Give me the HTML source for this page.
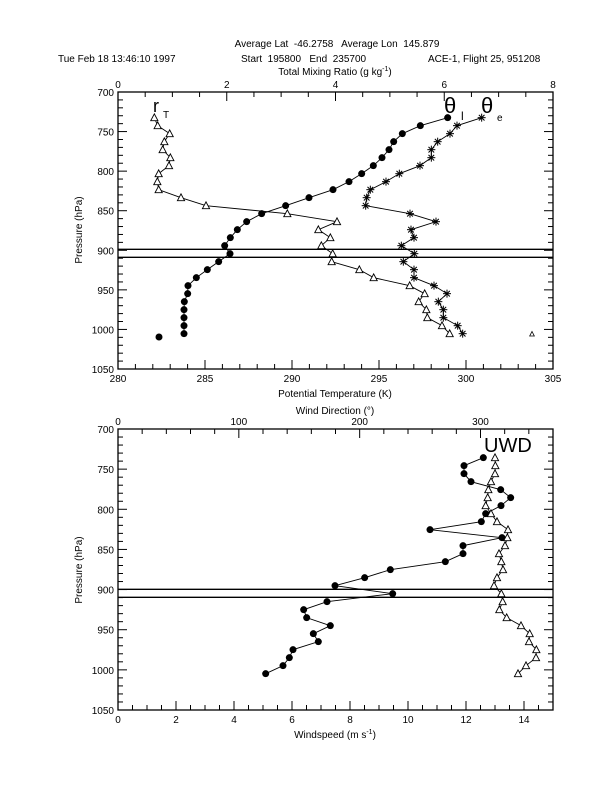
<!DOCTYPE html>
<html><head><meta charset="utf-8"><style>
body{margin:0;background:#fff}
svg{display:block}
text{font-family:"Liberation Sans",sans-serif;font-size:10px;fill:#000;white-space:pre}
</style></head><body>
<svg id="s" width="612" height="792" xmlns="http://www.w3.org/2000/svg">
<rect width="612" height="792" fill="#fff"/>
<text x="337" y="47" text-anchor="middle">Average Lat  -46.2758   Average Lon  145.879</text>
<text x="58" y="62">Tue Feb 18 13:46:10 1997</text>
<text x="241" y="62">Start  195800   End  235700</text>
<text x="428" y="62">ACE-1, Flight 25, 951208</text>
<text x="335" y="75" text-anchor="middle">Total Mixing Ratio (g kg<tspan dy="-4" font-size="7">-1</tspan><tspan dy="4">)</tspan></text>
<text x="335" y="397" text-anchor="middle">Potential Temperature (K)</text>
<text x="335" y="414" text-anchor="middle">Wind Direction (°)</text>
<text x="335" y="738" text-anchor="middle">Windspeed (m s<tspan dy="-4" font-size="7">-1</tspan><tspan dy="4">)</tspan></text>
<text transform="translate(82,230) rotate(-90)" text-anchor="middle">Pressure (hPa)</text>
<text transform="translate(82,570) rotate(-90)" text-anchor="middle">Pressure (hPa)</text>
<text x="153" y="112" style="font-size:18px">r</text><text x="163" y="118" style="font-size:10px">T</text>
<text x="444" y="113" style="font-size:22px">θ</text><text x="461" y="120" style="font-size:12px">l</text>
<text x="481" y="113" style="font-size:22px">θ</text><text x="497" y="121" style="font-size:10px">e</text>
<text x="484" y="452" style="font-size:20px">UWD</text>
<g id="g"></g>
</svg>
<script>
const NS="http://www.w3.org/2000/svg",g=document.getElementById('g');
function el(t,a,p){const e=document.createElementNS(NS,t);for(const k in a)e.setAttribute(k,a[k]);(p||g).appendChild(e);return e;}
function line(x1,y1,x2,y2,w){el('line',{x1,y1,x2,y2,stroke:'#000','stroke-width':w||1});}
function txt(x,y,s,anchor){const t=el('text',{x,y,'text-anchor':anchor||'middle'});t.textContent=s;}
const L=118,R=553;
function frame(T,B,bot,top,hl){
  el('rect',{x:L,y:T,width:R-L,height:B-T,fill:'none',stroke:'#000','stroke-width':1.3});
  const sc=(B-T)/350;
  for(let p=700;p<=1050;p+=10){const y=T+(p-700)*sc,len=(p%50==0)?9:5;line(L,y,L+len,y);line(R,y,R-len,y);
    if(p%50==0)txt(L-4,y+4,String(p),'end');}
  let [a,b,maj,mn]=bot;
  for(let v=a;v<=b+1e-9;v+=mn){const x=L+(v-a)/(b-a)*(R-L);const m=Math.abs(v/maj-Math.round(v/maj))<1e-6;line(x,B,x,B-(m?9:5));if(m)txt(x,B+13,String(Math.round(v)));}
  [a,b,maj,mn]=top;
  for(let v=a;v<=b+1e-9;v+=mn){const x=L+(v-a)/(b-a)*(R-L);const m=Math.abs(v/maj-Math.round(v/maj))<1e-6;line(x,T,x,T+(m?9:5));if(m)txt(x,T-4,String(Math.round(v)));}
  hl.forEach(y=>line(L,y,R,y,1.3));
}
frame(92,369,[280,305,5,1],[0,8,2,0.5],[249.3,257.3]);
frame(429,710,[0,15,2,0.5],[0,360,100,20],[589.3,597.3]);
function series(ox,oy,pts,mk,conn){
  const P=pts.map(p=>[ox+p[0]/3,oy+p[1]/3]);
  if(conn)el('polyline',{points:P.map(p=>p.join(',')).join(' '),fill:'none',stroke:'#000','stroke-width':0.9});
  P.forEach(([x,y])=>{
    if(mk=='dot')el('circle',{cx:x,cy:y,r:3.5,fill:'#000'});
    else if(mk=='tri')el('polygon',{points:`${x-3.6},${y+3} ${x+3.6},${y+3} ${x},${y-3.8}`,fill:'#fff',stroke:'#000','stroke-width':0.9});
    else if(mk=='star'){for(let k=0;k<4;k++){const a=k*Math.PI/4;line(x-4*Math.cos(a),y-4*Math.sin(a),x+4*Math.cos(a),y+4*Math.sin(a),1);}}
  });
}
const th=[[1013,83],[931,107],[877,131],[851,155],[837,179],[816,203],[790,227],[755,251],[717,275],[669,299],[597,323],[527,347],[455,371],[410,395],[382,419],[361,443],[344,467],[360,491],[326,515],[292,539],[259,563],[234,587],[233,611],[223,635],[222,659],[222,683],[222,707],[222,731]];
const te=[[1115,83],[1041,107],[1020,131],[983,155],[964,179],[964,203],[930,227],[868,251],[828,275],[781,299],[770,323],[767,347],[900,371],[978,395],[903,419],[912,443],[874,467],[913,491],[880,515],[912,539],[912,563],[972,587],[1011,611],[985,635],[1000,659],[1000,683],[1043,707],[1058,731]];
const rt=[[133,83],[143,107],[179,131],[163,155],[158,179],[181,203],[177,227],[146,251],[142,275],[146,299],[213,323],[288,347],[532,371],[681,395],[625,419],[661,443],[634,467],[668,491],[665,515],[748,539],[791,563],[899,587],[944,611],[926,635],[949,659],[952,683],[996,707],[1019,731]];
series(110,90,th,'dot',1);series(110,90,[[147,741]],'dot',0);
series(110,90,te,'star',1);
series(110,90,rt,'tri',1);
el('polygon',{points:"529.7,336 534.3,336 532,331.5",fill:'#fff',stroke:'#000','stroke-width':0.8});
const ws=[[1120,113],[1062,137],[1062,161],[1083,185],[1172,209],[1202,233],[1173,257],[1127,281],[1114,305],[960,329],[1176,353],[1059,377],[1059,401],[1006,425],[841,449],[764,473],[675,497],[848,521],[651,545],[581,569],[590,593],[661,617],[610,641],[625,665],[549,689],[538,713],[519,737],[467,761]];
const wd=[[1155,113],[1156,137],[1155,161],[1143,185],[1135,209],[1133,233],[1127,257],[1143,281],[1161,305],[1194,329],[1192,353],[1185,377],[1167,401],[1174,425],[1179,449],[1161,473],[1152,497],[1174,521],[1178,545],[1168,569],[1190,593],[1233,617],[1259,641],[1257,665],[1279,689],[1278,713],[1248,737],[1224,761]];
series(110,420,ws,'dot',1);series(110,420,wd,'tri',1);
</script>
</body></html>
